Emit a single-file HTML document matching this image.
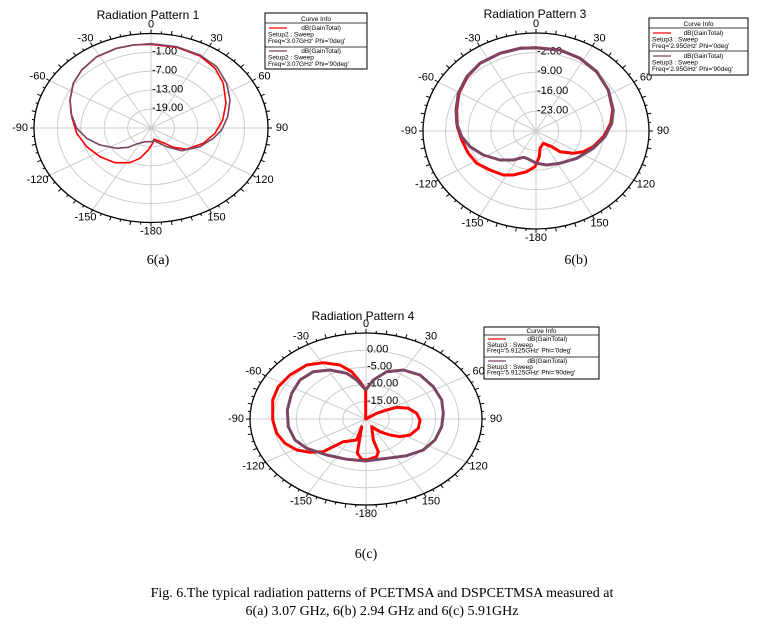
<!DOCTYPE html>
<html><head><meta charset="utf-8">
<style>
body{margin:0;background:#fff;width:757px;height:627px;overflow:hidden}
svg{position:absolute;left:0;top:0}
text{font-family:"Liberation Sans",Arial,sans-serif}
.cap{font-family:"Liberation Serif","Times New Roman",serif;font-size:14px}
</style></head><body>
<svg id="s" width="757" height="627" xmlns="http://www.w3.org/2000/svg">
<text class="cap" x="158" y="264" text-anchor="middle">6(a)</text>
<text class="cap" x="576" y="264" text-anchor="middle">6(b)</text>
<text class="cap" x="366" y="558" text-anchor="middle">6(c)</text>
<text class="cap" x="382" y="597" text-anchor="middle">Fig. 6.The typical radiation patterns of PCETMSA and DSPCETMSA measured at</text>
<text class="cap" x="382" y="615" text-anchor="middle">6(a) 3.07 GHz, 6(b) 2.94 GHz and 6(c) 5.91GHz</text>
</svg>
<script>
var S=document.getElementById('s'),NS='http://www.w3.org/2000/svg';
function el(t,a,txt){var e=document.createElementNS(NS,t);for(var k in a)e.setAttribute(k,a[k]);if(txt!=null)e.textContent=txt;S.appendChild(e);return e;}
function chart(c){
 var cx=c.cx,cy=c.cy,rx=c.rx,ry=c.ry;
 for(var i=1;i<=4;i++)el('ellipse',{cx:cx,cy:cy,rx:rx*i/5,ry:ry*i/5,fill:'none',stroke:'#ccc','stroke-width':1});
 for(var a=0;a<360;a+=30){var t=a*Math.PI/180;el('line',{x1:cx,y1:cy,x2:cx+rx*Math.sin(t),y2:cy-ry*Math.cos(t),stroke:'#ccc','stroke-width':1});}
 el('ellipse',{cx:cx,cy:cy,rx:rx,ry:ry,fill:'none',stroke:'#000','stroke-width':1.3});
 for(var a=0;a<360;a+=5){var t=a*Math.PI/180,L=(a%10==0)?4:2.5;var s=Math.sin(t),co=Math.cos(t);
  el('line',{x1:cx+rx*s,y1:cy-ry*co,x2:cx+(rx+L)*s,y2:cy-(ry+L)*co,stroke:'#000','stroke-width':1});}
 var labs=[[0,'0'],[30,'30'],[60,'60'],[90,'90'],[120,'120'],[150,'150'],[180,'-180'],[-150,'-150'],[-120,'-120'],[-90,'-90'],[-60,'-60'],[-30,'-30']];
 labs.forEach(function(l){var t=l[0]*Math.PI/180,s=Math.sin(t),co=Math.cos(t);
  var x=cx+(rx+8)*s+ (Math.abs(s)>0.3? s*6:0),y=cy-(ry+9)*co;
  el('text',{x:x,y:y,'font-size':11,'text-anchor':'middle','dominant-baseline':'central'},l[1]);});
 c.db.forEach(function(d,i){el('text',{x:cx+1,y:cy-ry*(0.81-0.2*i),'font-size':11,'dominant-baseline':'central'},d);});
 el('text',{x:c.tx,y:c.ty,'font-size':12,'text-anchor':'middle'},c.title);
 function poly(pts,col,w){var s=pts.map(function(p){return (c.ox+p[0]/3).toFixed(1)+','+(c.oy+p[1]/3).toFixed(1)}).join(' ');
  el('polyline',{points:s,fill:'none',stroke:col,'stroke-width':w,'stroke-linejoin':'round'});}
 poly(c.red,'#f00',c.w);poly(c.pur,'#7b4563',c.w);
 var g=c.lg;
 el('rect',{x:g.x,y:g.y,width:g.w,height:g.h,fill:'#fff',stroke:'#000','stroke-width':1});
 el('line',{x1:g.x,y1:g.hy,x2:g.x+g.w,y2:g.hy,stroke:'#000','stroke-width':0.8});
 el('line',{x1:g.x,y1:g.sy,x2:g.x+g.w,y2:g.sy,stroke:'#000','stroke-width':0.8});
 el('text',{x:g.x+g.w/2,y:g.hy-2,'font-size':6.5,'text-anchor':'middle'},'Curve Info');
 [[g.r1,'#f00',"0deg'"],[g.r2,'#7b4563',"90deg'"]].forEach(function(r){var y=r[0];
  el('line',{x1:g.x+4,y1:y-2,x2:g.x+22,y2:y-2,stroke:r[1],'stroke-width':1.2});
  el('text',{x:g.x+g.w*0.55,y:y,'font-size':6.5,'text-anchor':'middle'},'dB(GainTotal)');
  el('text',{x:g.x+3,y:y+g.d,'font-size':6.5},g.setup+' : Sweep');
  el('text',{x:g.x+3,y:y+2*g.d,'font-size':6.5},"Freq='"+g.f+"' Phi='"+r[2]);});
}
chart({cx:151,cy:128,rx:117,ry:94.5,ox:0,oy:0,w:1.6,title:'Radiation Pattern 1',tx:148,ty:19,
 db:['-1.00','-7.00','-13.00','-19.00'],
 pur:[[453,131],[530,140],[600,165],[650,200],[680,250],[690,300],[683,350],[665,390],[640,415],[600,440],[545,452],[500,440],[462,422],[455,425],[435,425],[410,432],[385,442],[350,445],[300,435],[260,415],[230,385],[213,340],[210,300],[220,250],[245,210],[290,170],[350,145],[400,135],[453,131]],
 red:[[453,133],[530,142],[600,168],[645,205],[670,250],[678,310],[668,360],[645,400],[610,430],[560,448],[520,442],[490,428],[462,418],[458,430],[445,450],[420,475],[390,488],[345,488],[300,470],[260,440],[230,400],[215,350],[210,300],[220,250],[245,210],[290,170],[350,145],[400,135],[453,133]],
 lg:{x:265,y:13,w:102,h:56,hy:23,sy:47,r1:30,r2:53,d:6.5,setup:'Setup2',f:'3.07GHz'}});
chart({cx:536,cy:131,rx:113,ry:98,ox:380,oy:0,w:3,title:'Radiation Pattern 3',tx:535,ty:18,
 db:['-2.00','-9.00','-16.00','-23.00'],
 pur:[[468,143],[540,150],[600,175],[650,215],[685,270],[700,330],[695,370],[675,410],[640,445],[590,475],[540,490],[500,495],[470,490],[440,475],[430,472],[400,480],[360,480],[310,465],[270,440],[245,410],[230,370],[228,330],[235,280],[260,230],[300,190],[360,160],[420,145],[468,143]],
 red:[[468,143],[540,150],[600,175],[650,215],[685,270],[698,330],[692,370],[672,408],[640,440],[610,455],[580,460],[540,455],[515,440],[490,430],[480,445],[478,470],[465,500],[440,515],[400,525],[370,525],[330,510],[290,490],[265,460],[245,420],[232,380],[230,330],[237,280],[262,230],[300,190],[360,160],[420,145],[468,143]],
 lg:{x:649,y:18,w:99,h:57,hy:28,sy:51,r1:35,r2:58,d:6.5,setup:'Setup3',f:'2.95GHz'}});
chart({cx:366,cy:419,rx:116,ry:86,ox:200,oy:300,w:3,title:'Radiation Pattern 4',tx:363,ty:320,
 db:['0.00','-5.00','-10.00','-15.00'],
 pur:[[497,270],[520,240],[560,215],[610,210],[660,225],[700,260],[725,300],[730,340],[725,380],[705,420],[670,450],[620,467],[560,475],[497,483],[440,478],[380,465],[320,445],[285,420],[265,380],[262,330],[275,280],[300,240],[340,215],[390,210],[440,220],[470,240],[497,270]],
 red:[[497,270],[497,357],[530,340],[560,330],[590,322],[625,325],[650,340],[660,360],[655,385],[630,405],[600,410],[570,405],[540,395],[515,380],[520,420],[535,455],[530,470],[500,480],[485,478],[472,460],[485,380],[470,420],[430,425],[400,440],[370,455],[330,457],[290,450],[255,430],[230,400],[218,360],[218,300],[235,260],[270,225],[320,195],[370,188],[420,195],[455,215],[480,245],[497,270]],
 lg:{x:484,y:327,w:115,h:52,hy:335,sy:357,r1:341,r2:363,d:5.8,setup:'Setup3',f:'5.9125GHz'}});
</script>
</body></html>
